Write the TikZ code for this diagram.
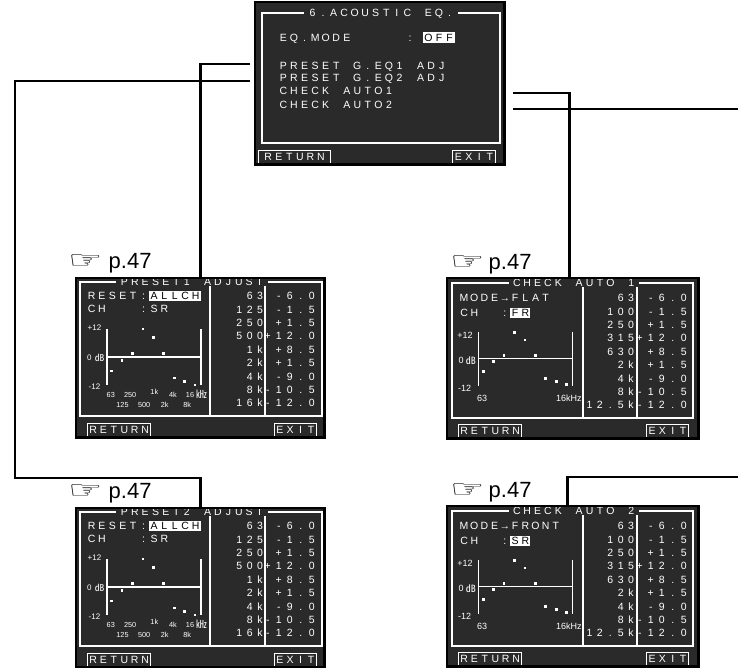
\documentclass[tikz,border=0pt]{standalone}
\usepackage{fontspec}
\setmainfont{Liberation Sans}
\newfontfamily\handfont{DejaVu Sans}
\newfontfamily\unitfont{Noto Sans CJK JP}
\definecolor{lcdbg}{gray}{0.165}

\makeatletter
\newlength\lcdpitch
\setlength\lcdpitch{10.4pt}
% one fixed cell per character, as on the unit's display
\newcommand\lcd[1]{\@tfor\lcd@c:=#1\do{\hbox to\lcdpitch{\hss\lcd@c\hss}}}
\makeatother
\newcommand\handsign{{\handfont\fontsize{22}{22}\selectfont\scalebox{1.75}[1.1]{☞}}}

% PRESET G.EQ screen: name, x, y, title
\newcommand\presetscreen[4]{%
\begin{scope}[shift={(#2,#3)}]
  \node[screen, minimum width=248pt, minimum height=159pt] (#1) at (0,0) {};
  \draw[rim] (4,4) rectangle (246,138) (134,4) -- (134,138) (189,4) -- (189,138);
  \node[lcd, fill=lcdbg, inner xsep=3pt] (#1-title) at (116,4) {\lcd{#4}};
  \node[lcd, anchor=west] (#1-reset) at (10.2,18) {\lcd{RESET:}};
  \node[pick, anchor=west] (#1-all) at (72.6,18) {\lcd{ALLCH}};
  \node[lcd, anchor=west] (#1-ch) at (10.2,31) {\lcd{CH~~~:SR}};
  \foreach \fq [count=\row] in {63,125,250,500,1k,2k,4k,8k,16k}
    \node[lcd, anchor=east] (#1-f\row) at (189.5,{18+13.4*(\row-1)}) {\expandafter\lcd\expandafter{\fq}};
  \foreach \db/\txt [count=\row] in {-6/-6.0,-1.5/-1.5,1.5/+1.5,12/+12.0,8.5/+8.5,1.5/+1.5,-9/-9.0,-10.5/-10.5,-12/-12.0} {
    \node[lcd, pitch=11pt, anchor=east] (#1-v\row) at (241.5,{18+13.4*(\row-1)}) {\expandafter\lcd\expandafter{\txt}};
    \fill[white] ({34.35+10.41*(\row-1)},{77.65-2.333*(\db)}) rectangle ++(2.7,2.7);
  }
  \draw[axis] (31,51) -- (31,107) (125,51) -- (125,107) (31,79) -- (125,79);
  \node[scalelab] (#1-hi) at (18.5,50) {+12};
  \node[scalelab] (#1-zero) at (13.3,80) {0};
  \node[scalelab, font=\unitfont\fontsize{9.5}{10}\selectfont] (#1-db) at (23.7,80) {㏈};
  \node[scalelab] (#1-lo) at (18.5,109) {-12};
  \foreach \lab/\x/\y in {63/34.8/117,250/54.2/117,1k/78.3/113.5,4k/97/117,16/114/117,125/46.5/126.5,500/68.2/126.5,2k/88.7/126.5,8k/111.2/126.5}
    \node[freqlab] (#1-x\lab) at (\x,\y) {\lab};
  \node[freqlab, font=\unitfont\fontsize{11}{11}\selectfont] (#1-khz) at (125.3,116) {㎑};
  \node[button, minimum width=63pt] (#1-ret) at (11,159) {\lcd{RETURN}};
  \node[button, minimum width=41pt] (#1-exit) at (198,159) {\lcd{EXIT}};
  \draw[line width=2.2pt] (#1.north west) rectangle (#1.south east);
  \node[noteref] (#1-ref) at (-8,-10) {\handsign\hspace{6pt}p.47};
\end{scope}}

% CHECK AUTO screen: name, x, y, title, mode, channel
\newcommand\checkscreen[6]{%
\begin{scope}[shift={(#2,#3)}]
  \node[screen, minimum width=251pt, minimum height=160pt] (#1) at (0,0) {};
  \draw[rim] (5,5) rectangle (246,140) (136,5) -- (136,140) (190,5) -- (190,140);
  \node[lcd, fill=lcdbg, inner xsep=3pt] (#1-title) at (127,5) {\lcd{#4}};
  \node[lcd, pitch=10.2pt, anchor=west] (#1-mode) at (11.8,20) {\lcd{MODE→#5}};
  \node[lcd, pitch=10.2pt, anchor=west] (#1-ch) at (11.8,35) {\lcd{CH~~:}};
  \node[pick, pitch=10.2pt, anchor=west] (#1-sel) at (62.8,35) {\lcd{#6}};
  \foreach \fq [count=\row] in {63,100,250,315,630,2k,4k,8k,12.5k}
    \node[lcd, anchor=east] (#1-f\row) at (189.5,{20+13.4*(\row-1)}) {\expandafter\lcd\expandafter{\fq}};
  \foreach \db/\txt [count=\row] in {-6/-6.0,-1.5/-1.5,1.5/+1.5,12/+12.0,8.5/+8.5,1.5/+1.5,-9/-9.0,-10.5/-10.5,-12/-12.0} {
    \node[lcd, pitch=11pt, anchor=east] (#1-v\row) at (242.5,{20+13.4*(\row-1)}) {\expandafter\lcd\expandafter{\txt}};
    \fill[white] ({34.95+10.42*(\row-1)},{79.15-2.19*(\db)}) rectangle ++(2.7,2.7);
  }
  \draw[axis] (31.3,53.7) -- (31.3,108) (125.3,53.7) -- (125.3,108) (31.3,80.5) -- (125.3,80.5);
  \node[scalelab, font=\fontsize{9}{9}\selectfont] (#1-hi) at (18,57) {+12};
  \node[scalelab, font=\fontsize{9}{9}\selectfont] (#1-zero) at (14.2,82.3) {0};
  \node[scalelab, font=\unitfont\fontsize{10}{10}\selectfont] (#1-db) at (23.8,82.3) {㏈};
  \node[scalelab, font=\fontsize{9}{9}\selectfont] (#1-lo) at (17.5,110.7) {-12};
  \node[scalelab, font=\fontsize{9}{9}\selectfont] (#1-x63) at (35,120.3) {63};
  \node[scalelab, font=\fontsize{9}{9}\selectfont] (#1-x16) at (121.8,120.3) {16kHz};
  \node[button, minimum width=63pt] (#1-ret) at (11,160) {\lcd{RETURN}};
  \node[button, minimum width=42pt] (#1-exit) at (199,160) {\lcd{EXIT}};
  \draw[line width=2.2pt] (#1.north west) rectangle (#1.south east);
  \node[noteref] (#1-ref) at (3,-9) {\handsign\hspace{4pt}p.47};
\end{scope}}

\begin{document}
\begin{tikzpicture}[
    x=1pt, y=-1pt,
    screen/.style={fill=lcdbg, anchor=north west, inner sep=0pt},
    rim/.style={draw=white, line width=1.5pt},
    axis/.style={draw=white, line width=1.4pt},
    lcd/.style={text=white, font=\fontsize{10.5}{11}\selectfont, inner sep=0pt,
      text height=7.5pt, text depth=0pt},
    pitch/.code={\setlength\lcdpitch{#1}},
    pick/.style={lcd, fill=white, text=black, inner xsep=0pt, inner ysep=1.6pt},
    button/.style={lcd, draw=white, line width=1.2pt, anchor=south west,
      minimum height=13pt, inner xsep=0pt},
    scalelab/.style={text=white, font=\fontsize{8}{8}\selectfont, inner sep=0pt},
    freqlab/.style={text=white, font=\fontsize{7.3}{8}\selectfont, inner sep=0pt},
    noteref/.style={anchor=base west, inner sep=0pt, font=\fontsize{22}{24}\selectfont},
    link/.style={line width=2.6pt}
]
\useasboundingbox (0,0) rectangle (738,667);

% main menu
\begin{scope}[shift={(255,2)}, lcd/.append style={pitch=10.55pt}]
  \node[screen, minimum width=249pt, minimum height=162pt] (menu) at (0,0) {};
  \draw[rim] (7,11) rectangle (245,141);
  \node[lcd, fill=lcdbg, inner xsep=3pt] (menu-title) at (126,11) {\lcd{6.ACOUSTIC~EQ.}};
  \node[lcd, anchor=west] (menu-mode) at (23,35.5) {\lcd{EQ.MODE~~~~~:}};
  \node[pick, anchor=west] (menu-off) at (168,35.5) {\lcd{OFF}};
  \node[lcd, anchor=west] (menu-g1) at (23,63.5) {\lcd{PRESET~G.EQ1~ADJ}};
  \node[lcd, anchor=west] (menu-g2) at (23,76) {\lcd{PRESET~G.EQ2~ADJ}};
  \node[lcd, anchor=west] (menu-a1) at (23,88.5) {\lcd{CHECK~AUTO1}};
  \node[lcd, anchor=west] (menu-a2) at (23,103) {\lcd{CHECK~AUTO2}};
  \node[button, minimum width=72pt] (menu-ret) at (3,162) {\lcd{RETURN}};
  \node[button, minimum width=43pt] (menu-exit) at (197,162) {\lcd{EXIT}};
  \draw[line width=2.2pt] (menu.north west) rectangle (menu.south east);
\end{scope}

\presetscreen{pre1}{76}{278}{PRESET1~ADJUST}
\presetscreen{pre2}{76}{508}{PRESET2~ADJUST}
\checkscreen{chk1}{447}{278}{CHECK~AUTO~1}{FLAT}{FR}
\checkscreen{chk2}{447}{506}{CHECK~AUTO~2}{FRONT}{SR}

% links from the menu lines
\coordinate (menu-out1) at (250,64);
\coordinate (menu-out2) at (250,81);
\coordinate (menu-out3) at (513,93);
\coordinate (menu-out4) at (513,109);
\coordinate (turn-left) at (15,478);
\coordinate (edge-r1) at (738,109);
\coordinate (edge-r2) at (738,477);
\draw[link] (menu-out1) -| (pre1.north);
\draw[link] (menu-out2) -| (turn-left) -| (pre2.north);
\draw[link] (menu-out3) -| ([xshift=-3.5pt]chk1.north);
\draw[link] (menu-out4) -- (edge-r1);
\draw[link] (edge-r2) -| ([xshift=-5.5pt]chk2.north);
\end{tikzpicture}
\end{document}
